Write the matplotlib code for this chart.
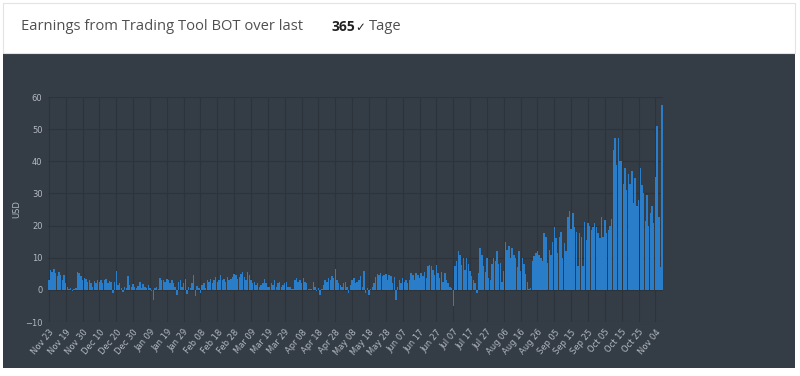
import numpy as np
import matplotlib
matplotlib.use("Agg")
import matplotlib.pyplot as plt
from matplotlib.patches import Rectangle

# daily earnings in USD (one value per day)
part1 = [3, 6.2, 5.7, 6.4, 5.2, 4.2, 5.7, 4.7, 3.1, 4.5, 2,
         1, 0.2, 0.5, -0.2, 0.3, 0.5,
         5.7, 5.2, 4.2, 3.1, 3.6, 3.3, 2.6,
         3, 2.2, 0.8, 2.8, 2, 3, 2.5, 3, 2.2, 3.2, 3.5, 2, 2.8, 2.5,
         -1, 2.5, 6,
         1.5, 2, 0.5, -0.8, 1, 0.5, 4.2, 1.5, 0.8, 1.8, 1, 0.5, 1.2, 2.5, 0.6, 1.8, 1, 0.7, 1.5, 0.5, -0.5,
         -3, 0.5, 1, 0.3,
         3.6, 3.1, 3, 2.3, 3.3, 3.1, 2, 3, 2.2, 1,
         -1.5, 2.5, 3, 1, 2, 3.5, -1.2, 1, 0.5, 2, 4.7, -2, 1.2, 0.5, -1, 1.5,
         2, 0.5, 3, 2.5, 3.5, 2, 3, 4, 2.5, 3, 4.5, 3, 3.5, 2.5, 4, 3,
         3.5, 4, 5, 4.5, 3.5, 4, 5, 5.5, 4, 3, 5.7, 4.5, 3, 2, 2.5, 1.5,
         2, 1, 1.5, 2, 3.5, 2, 1]
part2 = [1, 2, 1.6, 3.1, 1, 2, 2.6, 1, 1.6, 2, 2.6, 1, 0.8,
         0.2, 0.3,
         3.1, 3.6, 2.6, 3.1, 2, 3.6, 2.6, 2,
         0.2, 0.3, 0.2,
         2.6, 1, -0.5, 0.5, -1.5, 0.3, 1.5,
         3.1, 2.6, 3.6, 3.1, 4.2, 3.6, 6.5, 3.1, 2,
         1.6, 1, 2, 2.6, 0.8, -1, 1.5,
         3.1, 3.6, 2, 2.6, 3.1, 4.2, 1,
         6,
         -1, 0.5, -1.5, 0.3, 1,
         2, 4]
part3 = [5, 4.7, 5.2, 4.2, 4.7, 5, 3, 4.7, 4.2, 2, 4,
         -3,
         1, 3.1, 2, 3.6, 2.6, 3.1, 2, 3,
         5.4, 4.7, 3, 5.4, 4.7, 3.6, 5.2, 4.2, 5.7, 3.6,
         7.3, 7.8, 7.3, 6.2, 4.7, 7.8,
         5.2, 3.6, 5.7, 2.6, 5.2, 3.1, 2, 1, 0.5,
         -5]
part4 = [7.3, 8.9, 12, 11, 7.8, 9.9, 6.2, 10, 8, 6,
         4.2, 3.1, 2, -1, 5.2,
         13, 11, 7.3, 5.7, 9.9, 3.6, 3.1, 8, 10, 9, 12, 8]
part5 = [8.3, 2.6, 6,
         15, 12.5, 13.5, 10, 13, 11,
         10, 7, 12, 6, 10, 8, 5,
         2.6, 0.3, 0.5, 9,
         10.4, 11.4, 12, 11, 10, 9,
         17.6, 16.6, 8.3, 12.5, 11, 15,
         19.7, 16, 11.4, 16.6, 18, 10, 14.5, 12,
         22.8, 24.4, 19, 23.9, 19.7, 18,
         7.3, 17.6, 16.6, 7.3,
         21, 15.6, 20.8, 20, 18.7, 19.7, 20.8, 19.7, 17.6, 16,
         22.8, 16.6, 21.8, 17.6, 18.7, 20, 22, 43.6,
         47.2, 39, 47.2, 40,
         40, 33, 38, 31, 36, 33,
         36.9, 27, 34.8, 26, 28, 38,
         32.7, 30, 21.3, 29.6,
         20, 23.9, 26, 20.8,
         35, 50.9, 22.8, 7, 57.6]
earnings = part1 + part2 + part3 + part4 + part5

tick_labels = ["Nov 23", "Nov 19", "Nov 30", "Dec 10", "Dec 20", "Dec 30",
               "Jan 09", "Jan 19", "Jan 29", "Feb 08", "Feb 18", "Feb 28",
               "Mar 09", "Mar 19", "Mar 29", "Apr 08", "Apr 18", "Apr 28",
               "May 08", "May 18", "May 28", "Jun 07", "Jun 17", "Jun 27",
               "Jul 07", "Jul 17", "Jul 27", "Aug 06", "Aug 16", "Aug 26",
               "Sep 05", "Sep 15", "Sep 25", "Oct 05", "Oct 15", "Oct 25",
               "Nov 04"]

bg = "#343c46"
grid = "#2c333b"
txt = "#b4b9bf"

fig = plt.figure(figsize=(8, 3.76), dpi=100)
fig.patch.set_facecolor("white")
# dark panel behind the chart, white header card above it
fig.patches.append(Rectangle((3 / 800, 8 / 376), 792 / 800, 315 / 376,
                             transform=fig.transFigure, facecolor=bg,
                             edgecolor="none", zorder=-2))
fig.patches.append(Rectangle((3 / 800, 323 / 376), 792 / 800, 50 / 376,
                             transform=fig.transFigure, facecolor="white",
                             edgecolor="#e3e3e3", lw=0.8, zorder=-2))

fig.text(21 / 800, 1 - 27 / 376, "Earnings from Trading Tool BOT over last",
         fontsize=10.6, color="#505050", family="Open Sans", va="center")
fig.text(331 / 800, 1 - 27 / 376, "365", fontsize=10, color="#222222",
         family="Open Sans", weight="bold", va="center")
fig.text(355 / 800, 1 - 28 / 376, "\u2713", fontsize=8.5, color="#222222",
         family="DejaVu Sans", weight="bold", va="center")
fig.text(369 / 800, 1 - 27 / 376, "Tage", fontsize=10.6, color="#505050",
         family="Open Sans", va="center")

ax = fig.add_axes([48 / 800, 1 - 322 / 376, 615 / 800, 225 / 376])
ax.set_facecolor(bg)
x = np.arange(len(earnings))
ax.bar(x, earnings, width=0.85, color="#2a7dc9", linewidth=0, zorder=2)
ax.set_xlim(-0.5, len(earnings) - 0.5)
ax.set_ylim(-10, 60)
ax.set_yticks(range(-10, 61, 10))
ax.set_xticks(range(0, 10 * len(tick_labels), 10))
ax.set_xticklabels(tick_labels, rotation=50, ha="right", rotation_mode="anchor")
ax.tick_params(colors=txt, labelsize=6, length=0, pad=4)
ax.grid(True, color=grid, linewidth=0.8, zorder=0)
ax.set_axisbelow(True)
for s in ax.spines.values():
    s.set_visible(False)
ax.set_ylabel("USD", color=txt, fontsize=6, labelpad=3)

fig.savefig("out.png", dpi=100, facecolor=fig.get_facecolor())
